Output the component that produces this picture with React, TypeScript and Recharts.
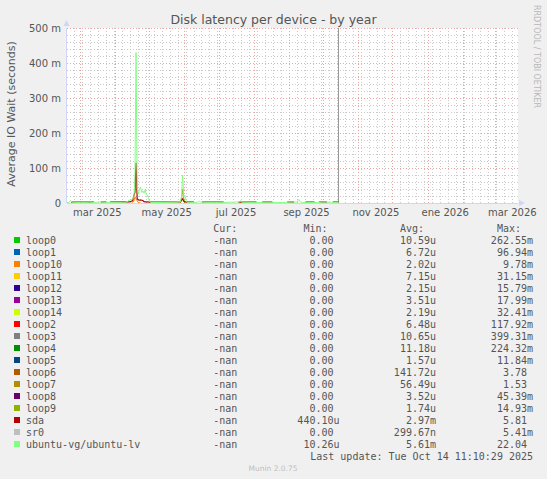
import React from 'react';
import { LineChart, Line, XAxis, YAxis, CartesianGrid, ReferenceLine } from 'recharts';

// x = days counted from Mon 17 Feb 2025, y = average IO wait in ms
const lvDays = [0, 2, 3, 4, 5, 12, 20, 25, 29, 31, 40, 50, 53, 55, 57, 59, 60, 61, 62, 63, 64, 65, 66, 67, 68, 69, 70, 71, 72, 73, 74, 85, 95, 100, 101, 102, 103, 104, 105, 106, 112, 116, 117, 118, 130, 140, 152, 153, 154, 165, 178, 190, 203, 204, 205, 206, 215, 225, 232, 233, 239];
const lvVals = [1, 2, 7, 6, 2, 1.5, 2, 1.5, 3.5, 2, 1.5, 2, 3, 8, 10, 14, 60, 430, 45, 25, 40, 45, 30, 35, 28, 38, 25, 22, 12, 4, 1.5, 1.5, 2, 3, 20, 80, 18, 22, 8, 2, 1.5, 3, 6, 2, 1.5, 2, 3, 7, 2, 1.5, 2, 1.5, 3, 10, 6, 2, 1.5, 2, 3, 1.5, 1.5];

const sdaDays = [4, 24, 25, 30, 35, 36, 38, 55, 58, 59, 60, 61, 62, 63, 64, 65, 66, 67, 68, 69, 75, 100, 101, 102, 103, 104, 112, 113, 119, 138, 139, 151, 167, 168, 172, 181, 182, 194, 200, 201, 210, 218, 219, 222, 229, 230, 234, 239];
const sdaVals = [2.5, 2.5, null, 2.5, 2.5, null, 2.5, 3, 6, 20, 30, 115, 12, 9, 8, 9, 8, 7, 4, 3, 2.5, 3, 8, 12, 5, 3, 2.5, null, 2.5, 2.5, null, 2.5, 2.5, null, 2.5, 2.5, null, 2.5, 2.5, null, 2.5, 2.5, null, 2.5, 2.5, null, 2.5, 2.5];

const loop10Days = [57, 59, 60, 61, 62, 63, 65];
const loop10Vals = [0, 5, 18, 12, 6, 1, 0];

const loop9Days = [100, 101, 102, 103, 104];
const loop9Vals = [0, 10, 40, 12, 0];

const yTicks = [0, 100, 200, 300, 400, 500];
const labelDays = [27, 88, 149, 211, 272, 333, 392];
const labelNames = ['mar 2025', 'may 2025', 'jul 2025', 'sep 2025', 'nov 2025', 'ene 2026', 'mar 2026'];
const monthStarts = [12, 43, 73, 104, 134, 165, 196, 226, 257, 287, 318, 349, 377];
const nowDay = 239;
const endDay = 397;

const names = ['loop0', 'loop1', 'loop10', 'loop11', 'loop12', 'loop13', 'loop14', 'loop2', 'loop3', 'loop4', 'loop5', 'loop6', 'loop7', 'loop8', 'loop9', 'sda', 'sr0', 'ubuntu-vg/ubuntu-lv'];
const colors = ['#00cc00', '#0066b3', '#ff8000', '#ffcc00', '#330099', '#990099', '#ccff00', '#ff0000', '#808080', '#008f00', '#00487d', '#b35a00', '#b38f00', '#6b006b', '#8fb300', '#b30000', '#bebebe', '#80ff80'];
const curCol = names.map(() => '-nan ');
const minCol = ['0.00 ', '0.00 ', '0.00 ', '0.00 ', '0.00 ', '0.00 ', '0.00 ', '0.00 ', '0.00 ', '0.00 ', '0.00 ', '0.00 ', '0.00 ', '0.00 ', '0.00 ', '440.10u', '0.00 ', '10.26u'];
const avgCol = ['10.59u', '6.72u', '2.02u', '7.15u', '2.15u', '3.51u', '2.19u', '6.48u', '10.65u', '11.18u', '1.57u', '141.72u', '56.49u', '3.52u', '1.74u', '2.97m', '299.67n', '5.61m'];
const maxCol = ['262.55m', '96.94m', '9.78m', '31.15m', '15.79m', '17.99m', '32.41m', '117.92m', '399.31m', '224.32m', '11.84m', '3.78 ', '1.53 ', '45.39m', '14.93m', '5.81 ', '5.41m', '22.04 '];

const toPoints = (days: number[], vals: (number | null)[]) => days.map((d, i) => ({ d, v: vals[i] }));

const weekLines: number[] = [];
for (let d = 0; d <= endDay; d += 7) weekLines.push(d);
const minorY: number[] = [];
for (let v = 20; v < 500; v += 20) if (v % 100 !== 0) minorY.push(v);

const FONT = '"DejaVu Sans", sans-serif';
const MONO = '"DejaVu Sans Mono", monospace';
const TXT = '#555555';
const AXIS = '#cfd6f8';
const GRID = '#cacaca';
const MGRID = '#eaa4a4';
const CW = 6.02; // mono char width at 10px

const XTick = (props: any) => {
  const i = labelDays.indexOf(props.payload.value);
  return (
    <text x={props.x} y={216} textAnchor="middle" fontFamily={FONT} fontSize={10} fill={TXT}>
      {labelNames[i]}
    </text>
  );
};

const YTick = (props: any) => (
  <text x={61} y={props.y + 3.5} textAnchor="end" fontFamily={FONT} fontSize={10} fill={TXT}>
    {props.payload.value === 0 ? '0' : `${props.payload.value} m`}
  </text>
);

const Mono = ({ right, y, s }: { right: number; y: number; s: string }) => (
  <text x={right - s.length * CW} y={y} fontFamily={MONO} fontSize={10} fill={TXT} style={{ whiteSpace: 'pre' }}>
    {s}
  </text>
);

export default function App() {
  return (
    <div style={{ position: 'relative', width: 547, height: 479, background: '#f0f0f0', overflow: 'hidden' }}>
      <style>{'body{margin:0} .recharts-cartesian-grid line, .recharts-cartesian-axis-line, .recharts-reference-line line { shape-rendering: crispEdges; }'}</style>
      <div style={{ position: 'absolute', left: 0, top: 0 }}>
        <LineChart width={547} height={220} margin={{ top: 28, right: 29, bottom: 0, left: 0 }}>
          <CartesianGrid fill="#ffffff" stroke={GRID} strokeDasharray="1 2" horizontal={false} verticalValues={weekLines} />
          <CartesianGrid stroke={MGRID} strokeDasharray="1 2" horizontal={false} verticalValues={monthStarts} />
          <XAxis type="number" dataKey="d" domain={[0, endDay]} ticks={labelDays} interval={0}
            allowDataOverflow tick={<XTick />} tickLine={false} axisLine={{ stroke: AXIS }} height={17} />
          <YAxis type="number" domain={[0, 500]} ticks={yTicks} allowDataOverflow
            tick={<YTick />} tickLine={false} axisLine={{ stroke: AXIS }} width={66.7} />
          {minorY.map((v) => (
            <ReferenceLine key={`m${v}`} y={v} stroke={GRID} strokeDasharray="1 2" />
          ))}
          {yTicks.filter((v) => v > 0).map((v) => (
            <ReferenceLine key={`M${v}`} y={v} stroke={MGRID} strokeDasharray="1 2" />
          ))}
          <ReferenceLine x={nowDay} stroke="#999999" strokeWidth={1} />
          <Line data={toPoints(loop10Days, loop10Vals)} dataKey="v" stroke={colors[2]} strokeWidth={1} dot={false} isAnimationActive={false} type="linear" />
          <Line data={toPoints(loop9Days, loop9Vals)} dataKey="v" stroke={colors[14]} strokeWidth={1} dot={false} isAnimationActive={false} type="linear" />
          <Line data={toPoints(sdaDays, sdaVals)} dataKey="v" stroke={colors[15]} strokeWidth={1.2} dot={false} isAnimationActive={false} type="linear" connectNulls={false} />
          <Line data={toPoints(lvDays, lvVals)} dataKey="v" stroke={colors[17]} strokeWidth={1} dot={false} isAnimationActive={false} type="linear" />
        </LineChart>
      </div>
      <svg width={547} height={479} style={{ position: 'absolute', left: 0, top: 0, pointerEvents: 'none' }}>
        <text x={273.5} y={24} textAnchor="middle" fontFamily={FONT} fontSize={12.5} fill={TXT}>
          Disk latency per device - by year
        </text>
        <text transform="translate(15,114) rotate(-90)" textAnchor="middle" fontFamily={FONT} fontSize={11} fill={TXT}>
          Average IO Wait (seconds)
        </text>
        <text transform="translate(534,5) rotate(90)" textAnchor="start" fontFamily={FONT} fontSize={8} fill="#b8b8b8">
          RRDTOOL / TOBI OETIKER
        </text>
        <polygon points="63.5,26 69.5,26 66.5,20" fill={AXIS} />
        <polygon points="519,200 519,206 525,203" fill={AXIS} />
        <Mono right={243.3} y={231.5} s="Cur: " />
        <Mono right={339.5} y={231.5} s="Min:  " />
        <Mono right={436} y={231.5} s="Avg:  " />
        <Mono right={533} y={231.5} s="Max:  " />
        {names.map((n, i) => {
          const y = 243.5 + 12 * i;
          return (
            <g key={n}>
              <rect x={14} y={y - 6.5} width={6} height={6} fill={colors[i]} />
              <text x={26} y={y} fontFamily={MONO} fontSize={10} fill={TXT}>{n}</text>
              <Mono right={243.3} y={y} s={curCol[i]} />
              <Mono right={339.5} y={y} s={minCol[i]} />
              <Mono right={436} y={y} s={avgCol[i]} />
              <Mono right={533} y={y} s={maxCol[i]} />
            </g>
          );
        })}
        <Mono right={533} y={459.5} s="Last update: Tue Oct 14 11:10:29 2025" />
        <text x={273} y={471} textAnchor="middle" fontFamily={FONT} fontSize={7.5} fill="#c0c0c0">
          Munin 2.0.75
        </text>
      </svg>
    </div>
  );
}
